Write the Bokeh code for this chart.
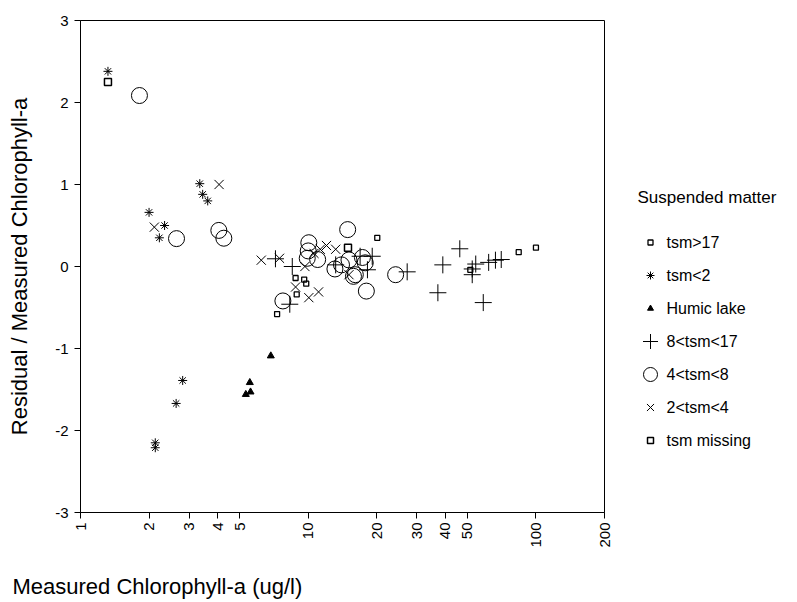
import math
from bokeh.plotting import figure
from bokeh.models import FixedTicker, Range1d, Title
from bokeh.layouts import row
from bokeh.core.properties import value
from bokeh.embed import file_html
from bokeh.resources import INLINE

FONT = "Liberation Sans"

# ---- data ----
gt17_x = [8.8, 9.6, 9.8, 7.3, 20.1, 51.5, 84.0, 100.0, 8.9]
gt17_y = [-0.14, -0.16, -0.21, -0.58, 0.35, -0.04, 0.175, 0.23, -0.34]

lt2_x = [1.32, 2.0, 2.34, 2.22, 3.34, 3.44, 3.62, 2.81, 2.63, 2.13, 2.13]
lt2_y = [2.38, 0.66, 0.50, 0.35, 1.01, 0.88, 0.80, -1.39, -1.67, -2.15, -2.21]

humic_x = [6.85, 5.54, 5.58, 5.32]
humic_y = [-1.09, -1.415, -1.53, -1.56]

t8_17_x = [7.18, 8.51, 8.3, 13.2, 16.9, 19.1, 18.2, 27.2, 39.0, 37.1, 46.3,
           54.4, 52.5, 52.5, 58.7, 62.0, 66.4, 70.4]
t8_17_y = [0.094, 0.0, -0.46, 0.02, 0.125, 0.125, -0.04, -0.065, 0.02, -0.32,
           0.216, 0.03, -0.03, -0.10, -0.44, 0.05, 0.077, 0.085]

t4_8_x = [1.815, 2.64, 4.05, 4.26, 7.74, 10.06, 10.0, 9.9, 11.0, 14.9, 13.1,
          14.0, 15.1, 16.1, 15.8, 17.8, 17.3, 18.0, 24.2]
t4_8_y = [2.085, 0.34, 0.44, 0.345, -0.42, 0.29, 0.19, 0.10, 0.085, 0.45,
          -0.03, 0.02, 0.08, -0.10, -0.12, 0.045, 0.11, -0.30, -0.10]

t2_4_x = [4.06, 2.11, 6.22, 7.48, 9.67, 10.6, 11.3, 12.03, 13.2, 15.1, 8.8,
          10.06, 11.1]
t2_4_y = [1.0, 0.48, 0.077, 0.10, 0.0, 0.16, 0.21, 0.256, 0.21, -0.10, -0.25,
          -0.38, -0.31]

missing_x = [1.32, 14.95]
missing_y = [2.25, 0.23]

x_ticks = [1, 2, 3, 4, 5, 10, 20, 30, 40, 50, 100, 200]
y_ticks = [-3, -2, -1, 0, 1, 2, 3]

legend_title = "Suspended matter"
legend_labels = ["tsm>17", "tsm<2", "Humic lake", "8<tsm<17", "4<tsm<8",
                 "2<tsm<4", "tsm missing"]

# marker styles: (marker, plot size, legend size, filled, line width)
styles = [
    ("square", 5, 5, False, 1.3),
    ("asterisk", 9, 8, False, 1.0),
    ("triangle", 7, 6, True, 1.0),
    ("cross", 17, 15, False, 1.0),
    ("circle", 16, 14, False, 1.0),
    ("x", 13, 10, False, 1.0),
    ("square", 7, 6, False, 1.5),
]
series = [(gt17_x, gt17_y), (lt2_x, lt2_y), (humic_x, humic_y),
          (t8_17_x, t8_17_y), (t4_8_x, t4_8_y), (t2_4_x, t2_4_y),
          (missing_x, missing_y)]

FL, FT, FW, FH = 80, 20, 524, 492   # frame left/top/width/height on the page
BR = 12
MAIN_W = FL + FW + BR
TOTAL_W = 796

p = figure(x_axis_type="log",
           x_range=Range1d(1, 200), y_range=Range1d(-3, 3),
           output_backend="svg", toolbar_location=None,
           frame_width=FW, frame_height=FH,
           min_border_left=FL, min_border_right=BR, min_border_top=FT,
           min_border_bottom=10)
p.grid.visible = False
p.outline_line_color = "black"
p.outline_line_width = 1
p.background_fill_color = "white"
p.border_fill_color = "white"

for (xs, ys), (mk, sz, lsz, filled, lw) in zip(series, styles):
    p.scatter(xs, ys, marker=mk, size=sz, line_color="black", line_width=lw,
              fill_color="black" if filled else None)

for ax in (p.xaxis[0], p.yaxis[0]):
    ax.axis_line_color = "black"
    ax.major_tick_line_color = "black"
    ax.minor_tick_line_color = None
    ax.major_tick_in = 0
    ax.major_tick_out = 6
    ax.major_label_text_font = FONT
    ax.major_label_text_font_size = "15px"
    ax.major_label_text_color = "black"

p.xaxis.ticker = FixedTicker(ticks=x_ticks)
p.xaxis.major_label_overrides = {t: str(t) for t in x_ticks}
p.xaxis.major_label_orientation = math.pi / 2
p.xaxis.major_label_standoff = 4

p.yaxis.ticker = FixedTicker(ticks=y_ticks)
p.yaxis.major_label_overrides = {t: str(t) for t in y_ticks}
p.yaxis.major_label_standoff = 6
p.yaxis.axis_label = "Residual / Measured Chlorophyll-a"
p.yaxis.axis_label_text_font = FONT
p.yaxis.axis_label_text_font_size = "22px"
p.yaxis.axis_label_text_font_style = "normal"
p.yaxis.axis_label_text_color = "black"
p.yaxis.axis_label_standoff = 20

p.add_layout(Title(text="Measured Chlorophyll-a (ug/l)", align="left",
                   offset=-68, standoff=42, text_font=FONT,
                   text_font_size="22px", text_font_style="normal",
                   text_color="black"), "below")

# ---- legend panel (coordinates of the panel are page pixels) ----
LW = TOTAL_W - MAIN_W
lg = figure(width=LW, frame_height=FH, x_range=Range1d(MAIN_W, TOTAL_W),
            y_range=Range1d(FT + FH, FT),
            output_backend="svg", toolbar_location=None,
            min_border_left=0, min_border_right=0, min_border_top=FT,
            min_border_bottom=10, outline_line_color=None)
lg.axis.visible = False
lg.grid.visible = False

TITLE_X, TITLE_Y = 637, 197
MARK_X, TEXT_X = 650, 666
ROW0, ROW_GAP = 242, 33

lg.text(x=[TITLE_X], y=[TITLE_Y], text=[legend_title], text_font=value(FONT),
        text_font_size="17px", text_baseline="middle", text_color="black")
for i, (lab, (mk, sz, lsz, filled, lw)) in enumerate(zip(legend_labels, styles)):
    yy = ROW0 + ROW_GAP * i
    lg.scatter([MARK_X], [yy], marker=mk, size=lsz, line_color="black",
               line_width=lw, fill_color="black" if filled else None)
    lg.text(x=[TEXT_X], y=[yy], text=[lab], text_font=value(FONT),
            text_font_size="16px", text_baseline="middle", text_color="black")

layout = row(p, lg)
open("out.html", "w").write(file_html(layout, INLINE))
